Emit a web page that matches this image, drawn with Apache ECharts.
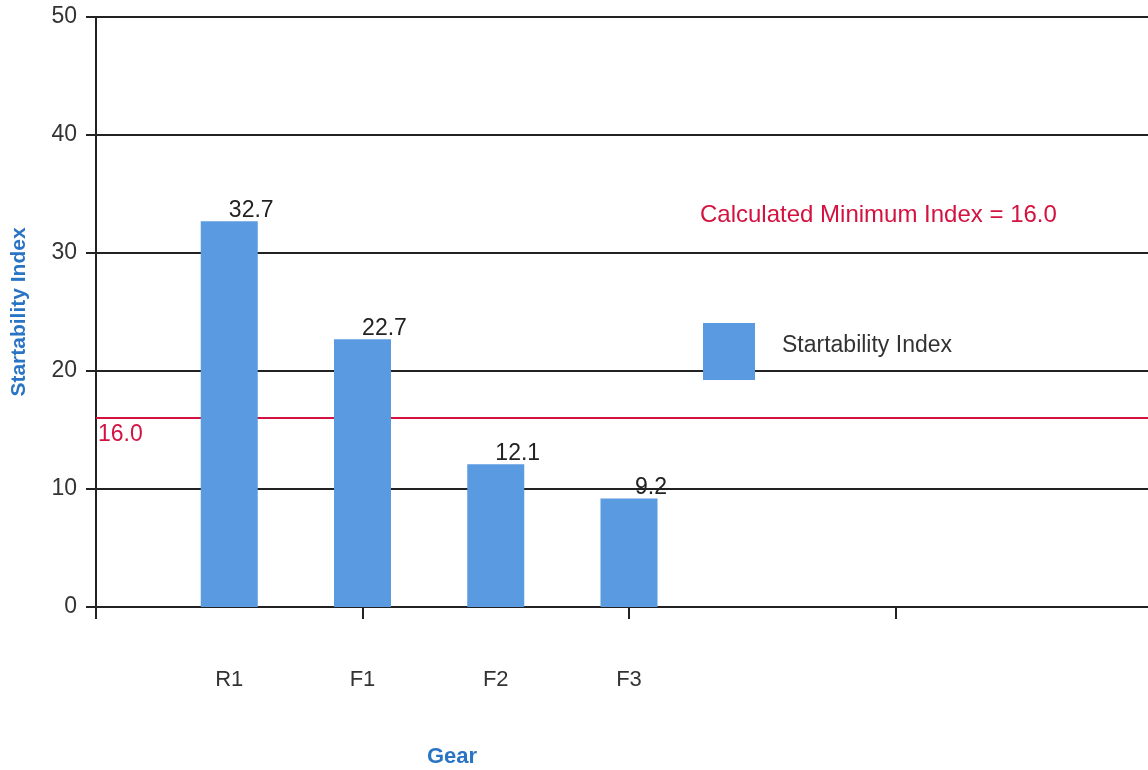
<!DOCTYPE html>
<html>
<head>
<meta charset="utf-8">
<script src="https://cdn.jsdelivr.net/npm/echarts@6/dist/echarts.min.js"></script>
<style>
html,body{margin:0;padding:0;background:#fff;}
#chart{width:1148px;height:770px;}
</style>
</head>
<body>
<div id="chart"></div>
<script>
// Data
var categories = ["", "R1", "F1", "F2", "F3", "", "", "", ""];
var startability = [null, 32.7, 22.7, 12.1, 9.2, null, null, null, null];
var minIndex = 16.0;
var seriesName = "Startability Index";
var minLabel = "Calculated Minimum Index = 16.0";
var xTitle = "Gear";
var yTitle = "Startability Index";

var FONT = "'Liberation Sans', Arial, sans-serif";
var RED = "#d3123f";
var BLUE = "#2a74c4";
var BAR = "#5a9ae0";

var chart = echarts.init(document.getElementById('chart'), null, {renderer: 'canvas'});
chart.setOption({
  animation: false,
  backgroundColor: '#ffffff',
  textStyle: {fontFamily: FONT},
  grid: {left: 96, right: -14, top: 17, bottom: 163, containLabel: false, outerBoundsMode: 'none'},
  legend: {
    left: 698, top: 318,
    itemWidth: 52, itemHeight: 57,
    icon: 'rect',
    data: [seriesName],
    formatter: function (n) { return '{t|' + n + '}\n{s|}'; },
    textStyle: {
      fontSize: 23, color: '#333', fontFamily: FONT, padding: [0, 0, 0, 22],
      rich: {
        t: {fontSize: 23, color: '#333', fontFamily: FONT, lineHeight: 26},
        s: {fontSize: 1, lineHeight: 12}
      }
    }
  },
  xAxis: {
    type: 'category',
    data: categories,
    boundaryGap: false,
    axisLine: {lineStyle: {color: '#222', width: 2}},
    axisTick: {show: true, interval: 1, length: 12, lineStyle: {color: '#222', width: 2}},
    axisLabel: {interval: 0, margin: 62, fontSize: 22, color: '#333', fontFamily: FONT},
    splitLine: {show: false}
  },
  yAxis: {
    type: 'value',
    min: 0, max: 50, interval: 10,
    name: yTitle,
    nameLocation: 'middle',
    nameGap: 66,
    nameTextStyle: {color: BLUE, fontSize: 21, fontWeight: 'bold', fontFamily: FONT},
    axisLine: {show: true, lineStyle: {color: '#222', width: 2}},
    axisTick: {show: true, length: 10, lineStyle: {color: '#222', width: 2}},
    axisLabel: {fontSize: 23, color: '#333', margin: 19, fontFamily: FONT},
    splitLine: {show: true, lineStyle: {color: '#222', width: 2}}
  },
  graphic: [
    {type: 'text', x: 452, y: 757, style: {text: xTitle, fill: BLUE, font: 'bold 22px ' + FONT, textAlign: 'center', textVerticalAlign: 'middle'}},
    {type: 'text', x: 700, y: 215, style: {text: minLabel, fill: RED, font: '24px ' + FONT, textAlign: 'left', textVerticalAlign: 'middle'}}
  ],
  series: [
    {
      name: seriesName,
      type: 'bar',
      data: startability,
      barWidth: 57,
      z: 3,
      itemStyle: {color: BAR},
      label: {
        show: true,
        position: 'top',
        offset: [22, 6],
        fontSize: 23,
        color: '#222',
        fontFamily: FONT,
        formatter: function (p) { return p.value == null ? '' : p.value.toFixed(1); }
      },
      markLine: {
        z: 1,
        silent: true,
        symbol: 'none',
        lineStyle: {color: RED, width: 2, type: 'solid'},
        label: {
          show: true,
          position: 'insideStartBottom',
          color: RED,
          fontSize: 23,
          fontFamily: FONT,
          distance: [2, 5],
          formatter: function () { return minIndex.toFixed(1); }
        },
        data: [{yAxis: minIndex}]
      }
    }
  ]
});
</script>
</body>
</html>
